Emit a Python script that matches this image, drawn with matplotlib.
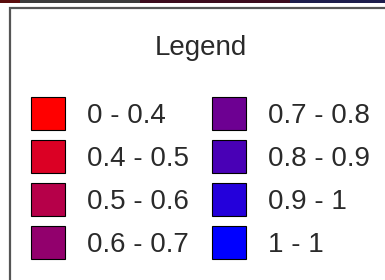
import matplotlib.pyplot as plt
from matplotlib.patches import Patch, Rectangle

plt.rcParams['font.family'] = ['Liberation Sans', 'DejaVu Sans']

# legend classes and their fill colours (red -> blue ramp)
labels = ["0 - 0.4", "0.4 - 0.5", "0.5 - 0.6", "0.6 - 0.7",
          "0.7 - 0.8", "0.8 - 0.9", "0.9 - 1", "1 - 1"]
colors = ["#ff0000", "#db0024", "#b60049", "#92006d",
          "#6d0092", "#4900b6", "#2400db", "#0000ff"]

# bit of the map edge showing along the top
strip_ends = [0, 20, 140, 290, 385]
strip_colors = ["#5a0c0c", "#3c3c3c", "#3c0a1c", "#1c1c4c"]

W, H = 385, 280
fig = plt.figure(figsize=(W / 100, H / 100), dpi=100)
fig.patch.set_facecolor("white")

def fx(x):
    return x / W

def fy(y):
    return 1 - y / H

for x0, x1, c in zip(strip_ends[:-1], strip_ends[1:], strip_colors):
    fig.patches.append(Rectangle((fx(x0), fy(3)), fx(x1 - x0), 3 / H,
                                 transform=fig.transFigure, color=c, lw=0))

# legend panel border (runs off the right and bottom edges)
fig.patches.append(Rectangle((fx(10), fy(290)), fx(400), 282 / H,
                             transform=fig.transFigure, facecolor="white",
                             edgecolor="#555555", lw=1.6))

fig.text(fx(201), fy(55), "Legend", ha="center", va="baseline",
         fontsize=20, color="#2a2a2a")

handles = [Patch(facecolor=c, edgecolor="black", linewidth=0.8) for c in colors]
leg = fig.legend(handles, labels, ncol=2,
                 loc="upper left", bbox_to_anchor=(fx(31), fy(97)),
                 frameon=False, fontsize=20,
                 handlelength=1.22, handleheight=1.45, handletextpad=0.79,
                 labelspacing=0.36, columnspacing=0.85,
                 borderpad=0, borderaxespad=0)
for t in leg.get_texts():
    t.set_color("#2a2a2a")

fig.savefig("out.png", dpi=100)
